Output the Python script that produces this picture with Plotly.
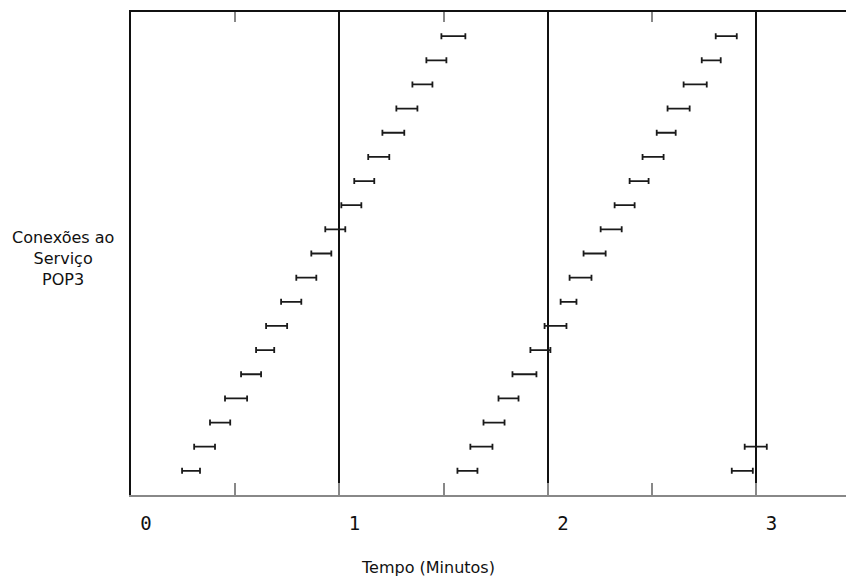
import plotly.graph_objects as go

# --- data (minutes) ---
rows = list(range(1, 20))
s1_start = [0.245, 0.303, 0.379, 0.451, 0.528, 0.600, 0.648, 0.720, 0.793, 0.865,
            0.932, 1.009, 1.071, 1.138, 1.206, 1.273, 1.350, 1.417, 1.489]
s1_end = [0.331, 0.403, 0.476, 0.557, 0.624, 0.687, 0.749, 0.817, 0.889, 0.961,
          1.028, 1.105, 1.167, 1.239, 1.311, 1.374, 1.446, 1.513, 1.604]
s2_start = [1.566, 1.628, 1.691, 1.763, 1.830, 1.916, 1.984, 2.061, 2.104, 2.171,
            2.253, 2.320, 2.392, 2.454, 2.522, 2.574, 2.651, 2.738, 2.805]
s2_end = [1.662, 1.734, 1.792, 1.859, 1.945, 2.012, 2.089, 2.137, 2.209, 2.277,
          2.354, 2.416, 2.483, 2.555, 2.613, 2.680, 2.762, 2.829, 2.906]
s3_rows = [1, 2]
s3_start = [2.882, 2.944]
s3_end = [2.983, 3.050]

tick_vals = [0, 1, 2, 3]
tick_text = ["0", "1", "2", "3"]
x_title = "Tempo (Minutos)"
y_title = "Conexões ao<br>Serviço<br>POP3"

fig = go.Figure()

def add_intervals(starts, ends, ys):
    mids = [(a + b) / 2 for a, b in zip(starts, ends)]
    half = [(b - a) / 2 for a, b in zip(starts, ends)]
    fig.add_trace(go.Scatter(
        x=mids, y=ys, mode="markers",
        marker=dict(size=1, color="rgba(0,0,0,0)"),
        error_x=dict(type="data", array=half, symmetric=True,
                     width=3, thickness=1.8, color="#1a1a1a"),
        showlegend=False, hoverinfo="skip"))

add_intervals(s1_start, s1_end, rows)
add_intervals(s2_start, s2_end, rows)
add_intervals(s3_start, s3_end, s3_rows)

# invisible trace to anchor top axis
fig.add_trace(go.Scatter(x=[0], y=[0], xaxis="x2", mode="markers",
                         marker=dict(color="rgba(0,0,0,0)"), showlegend=False,
                         hoverinfo="skip"))

fig.update_layout(
    width=846, height=578,
    margin=dict(l=131, r=0, t=12, b=83),
    paper_bgcolor="white", plot_bgcolor="white",
    xaxis=dict(
        range=[0, 3.43], tickvals=tick_vals, ticktext=tick_text,
        ticks="inside", ticklen=12, tickcolor="#888", tickwidth=2,
        minor=dict(dtick=0.5, tick0=0, ticks="inside", ticklen=12,
                   tickcolor="#888", tickwidth=2, showgrid=False),
        showgrid=True, gridcolor="#111", gridwidth=2,
        showline=True, linecolor="#888", linewidth=2,
        zeroline=False,
        tickfont=dict(family="DejaVu Sans Mono", size=19, color="#111"),
        ticklabelshift=15, ticklabelstandoff=10,
    ),
    xaxis2=dict(
        overlaying="x", side="top", matches="x", range=[0, 3.43],
        tickvals=[0.5, 1.5, 2.5], ticks="inside", ticklen=10,
        tickcolor="#888", tickwidth=2, showticklabels=False,
        showgrid=False, showline=True, linecolor="#111", linewidth=2,
        zeroline=False,
    ),
    yaxis=dict(
        range=[0, 20], showticklabels=False, ticks="", showgrid=False,
        zeroline=False, showline=True, linecolor="#111", linewidth=2,
    ),
    annotations=[
        dict(text=x_title, xref="paper", yref="paper", x=(428 - 131) / 715,
             y=-72 / 483, xanchor="center", yanchor="middle", showarrow=False,
             font=dict(family="DejaVu Sans", size=16, color="#111")),
        dict(text=y_title, xref="paper", yref="paper", x=-(131 - 63) / 715,
             y=(495 - 258) / 483, xanchor="center", yanchor="middle",
             showarrow=False, align="center",
             font=dict(family="DejaVu Sans", size=16, color="#111")),
    ],
)

fig.write_html(
    "out.html",
    config={"displayModeBar": False},
    post_script="document.body.style.margin='0';document.body.style.overflow='hidden';",
)
